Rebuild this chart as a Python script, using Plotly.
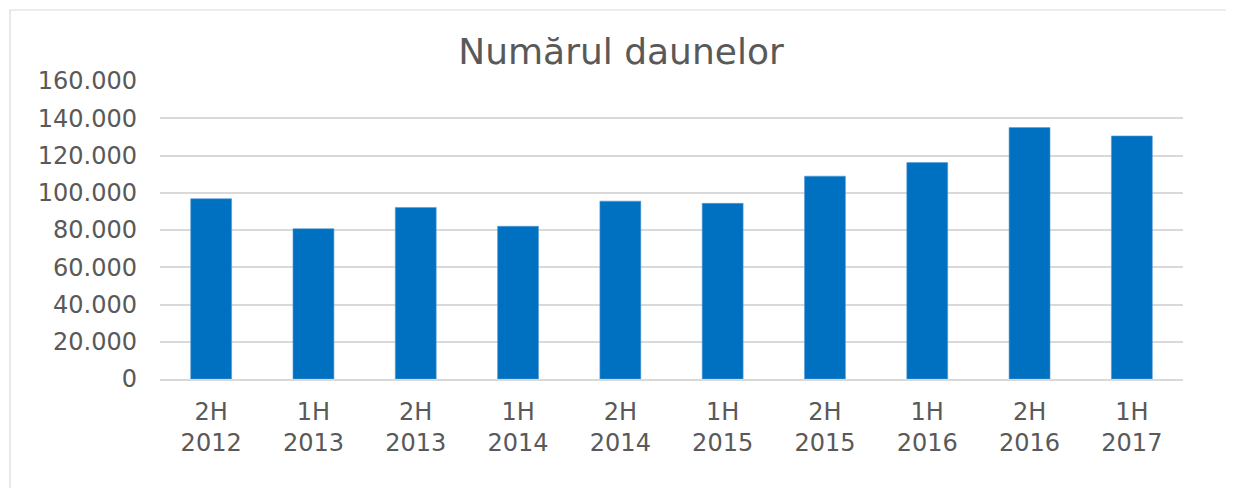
import plotly.graph_objects as go

categories = ["2H<br>2012", "1H<br>2013", "2H<br>2013", "1H<br>2014", "2H<br>2014",
              "1H<br>2015", "2H<br>2015", "1H<br>2016", "2H<br>2016", "1H<br>2017"]
values = [96800, 80700, 92100, 82000, 95500, 94300, 108900, 116200, 135000, 130500]
tick_vals = [0, 20000, 40000, 60000, 80000, 100000, 120000, 140000, 160000]
tick_text = ["0", "20.000", "40.000", "60.000", "80.000", "100.000", "120.000", "140.000", "160.000"]

FONT = "Verdana, DejaVu Sans, sans-serif"
GREY = "#595959"

fig = go.Figure()
fig.add_trace(go.Bar(
    x=categories, y=values,
    marker=dict(color="#0070C0", line=dict(color="#5B9BD5", width=0.6)),
    width=0.4,
))

# page has an 8px body offset; work in figure coords
W, H = 1226, 480
L, T = 152, 73
R = W - (1183 - 8)
B = H - (379 - 8)
pw, ph = W - L - R, H - T - B

fig.update_layout(
    width=W, height=H,
    margin=dict(l=L, r=R, t=T, b=B, pad=0),
    paper_bgcolor="white", plot_bgcolor="white",
    showlegend=False,
    title=dict(text="Numărul daunelor", x=0.5, xanchor="center", y=1 - 43 / H, yanchor="middle",
               font=dict(family=FONT, size=36, color=GREY)),
    font=dict(family=FONT, color=GREY),
    xaxis=dict(showgrid=False, showline=True, linecolor="#D9D9D9", linewidth=1.5,
               tickfont=dict(size=24, color=GREY), ticks="", ticklabelstandoff=10),
    yaxis=dict(range=[0, 160000], tickvals=tick_vals, ticktext=tick_text,
               showgrid=True, gridcolor="#D9D9D9", gridwidth=1.5, zeroline=False,
               showline=False, ticks="", ticklabelstandoff=22,
               tickfont=dict(size=24, color=GREY)),
    shapes=[dict(type="rect", xref="paper", yref="paper",
                 x0=(2 - L) / pw, x1=1.5,
                 y0=-1.0, y1=1 + (T - 2) / ph,
                 line=dict(color="#D9D9D9", width=1.2), fillcolor="rgba(0,0,0,0)", layer="below")],
)

fig.write_html("out.html")
